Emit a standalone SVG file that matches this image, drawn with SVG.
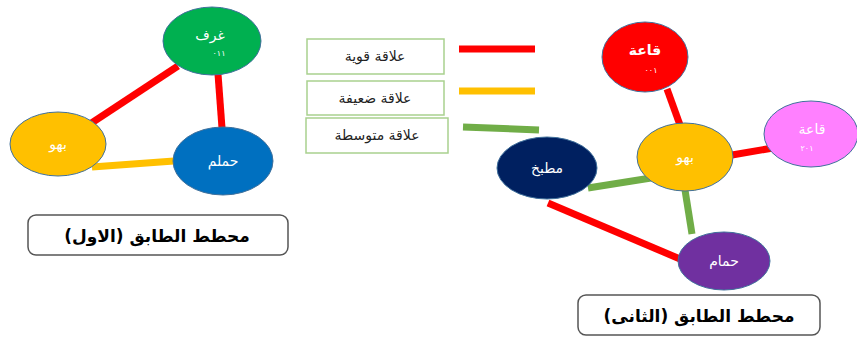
<svg xmlns="http://www.w3.org/2000/svg" width="857" height="340" viewBox="0 0 857 340">
  <style>
    .node { stroke: #41719c; stroke-width: 1; }
    .lbl { font-family: "DejaVu Sans", "Noto Sans", sans-serif; fill: #ffffff; font-size: 14px; text-anchor: middle; }
    .num { font-family: "DejaVu Sans", sans-serif; fill: #ffffff; font-size: 8px; text-anchor: middle; }
    .strong { stroke: #ff0000; stroke-width: 7; }
    .weak { stroke: #ffc000; stroke-width: 7; }
    .mid { stroke: #70ad47; stroke-width: 7; }
    .key { fill: #ffffff; stroke: #a9d18e; stroke-width: 1.5; }
    .keytxt { font-family: "DejaVu Sans", sans-serif; fill: #222222; font-size: 14px; text-anchor: middle; }
    .title { fill: #ffffff; stroke: #555555; stroke-width: 1.5; }
    .titletxt { font-family: "DejaVu Sans", sans-serif; font-weight: bold; fill: #000000; font-size: 17px; text-anchor: middle; }
  </style>
  <rect width="857" height="340" fill="#ffffff"/>

  <!-- connectors -->
  <g id="connectors">
    <line class="strong" x1="178" y1="66" x2="90" y2="124"/>
    <line class="strong" x1="218" y1="74" x2="222" y2="128"/>
    <line class="weak" x1="92" y1="167" x2="174" y2="161"/>
    <line class="strong" x1="667" y1="89" x2="680" y2="125"/>
    <line class="strong" x1="732" y1="155" x2="773" y2="148"/>
    <line class="mid" x1="588" y1="188" x2="651" y2="178"/>
    <line class="mid" x1="685" y1="190" x2="692" y2="234"/>
    <line class="strong" x1="548" y1="203" x2="680" y2="259"/>
  </g>

  <!-- first floor -->
  <g id="ghuraf">
    <ellipse class="node" cx="212" cy="41" rx="49" ry="34" fill="#00b050"/>
    <text class="lbl" x="210" y="40">غرف</text>
    <text class="num" x="219" y="56">٠١١</text>
  </g>
  <g id="bahw1">
    <ellipse class="node" cx="58" cy="144" rx="48" ry="32" fill="#ffc000" stroke="#bf9000"/>
    <text class="lbl" x="58" y="149">بهو</text>
  </g>
  <g id="hamlam">
    <ellipse class="node" cx="223" cy="161" rx="50" ry="34" fill="#0070c0"/>
    <text class="lbl" x="223" y="166">حملم</text>
  </g>
  <g id="title1">
    <rect class="title" x="28" y="215" width="260" height="40" rx="8"/>
    <text class="titletxt" x="157" y="242">محطط الطابق (الاول)</text>
  </g>

  <!-- legend -->
  <g id="legend-strong">
    <rect class="key" x="307" y="39" width="137" height="35"/>
    <text class="keytxt" x="375" y="61">علاقة قوية</text>
    <line class="strong" x1="459" y1="49" x2="535" y2="49"/>
  </g>
  <g id="legend-weak">
    <rect class="key" x="307" y="81" width="137" height="34"/>
    <text class="keytxt" x="375" y="103">علاقة ضعيفة</text>
    <line class="weak" x1="459" y1="91" x2="535" y2="91"/>
  </g>
  <g id="legend-mid">
    <rect class="key" x="306" y="118" width="142" height="35"/>
    <text class="keytxt" x="377" y="140">علاقة متوسطة</text>
    <line class="mid" x1="463" y1="127" x2="539" y2="130"/>
  </g>

  <!-- second floor -->
  <g id="qaa-red">
    <ellipse class="node" cx="645" cy="57" rx="43" ry="35" fill="#ff0000"/>
    <text class="lbl" x="645" y="55" font-weight="bold">قاعة</text>
    <text class="num" x="651" y="73">٠٠١</text>
  </g>
  <g id="qaa-pink">
    <ellipse class="node" cx="811" cy="134" rx="47" ry="33" fill="#ff80ff"/>
    <text class="lbl" x="812" y="134">قاعة</text>
    <text class="num" x="807" y="151">٢٠١</text>
  </g>
  <g id="bahw2">
    <ellipse class="node" cx="685" cy="157" rx="48" ry="34" fill="#ffc000" stroke="#bf9000"/>
    <text class="lbl" x="685" y="162">بهو</text>
  </g>
  <g id="matbakh">
    <ellipse class="node" cx="547" cy="168" rx="50" ry="31" fill="#002060"/>
    <text class="lbl" x="547" y="173">مطبخ</text>
  </g>
  <g id="hammam">
    <ellipse class="node" cx="724" cy="261" rx="46" ry="29" fill="#7030a0"/>
    <text class="lbl" x="724" y="266">حمام</text>
  </g>
  <g id="title2">
    <rect class="title" x="578" y="295" width="242" height="40" rx="8"/>
    <text class="titletxt" x="699" y="322">محطط الطابق (الثانى)</text>
  </g>
</svg>
